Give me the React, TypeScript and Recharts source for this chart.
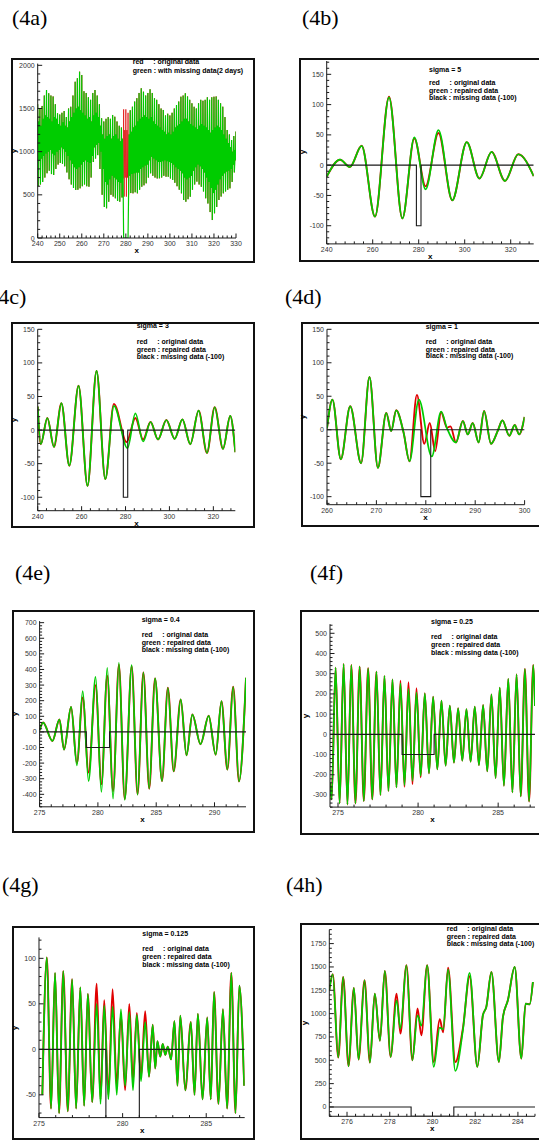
import React from 'react';
import { LineChart, Line, XAxis, YAxis } from 'recharts';

type Pt = { x: number; y: number };
const pts = (xs: number[], ys: number[]): Pt[] => xs.map((x, i) => ({ x, y: ys[i] }));

const RED = '#e00000';
const GREEN = '#00cc00';
const INK = '#1a1a1a';
const SANS = "'Liberation Sans', Arial, sans-serif";
const SERIF = "'Liberation Serif', 'Times New Roman', serif";

// (4a) raw record, days 240..330: main high/low and the smaller second tide of each day
const aFirstDay = 240;
const aHighs = [
  1550, 1500, 1530, 1650, 1714, 1676, 1650, 1640, 1550, 1444,
  1430, 1450, 1470, 1400, 1500, 1520, 1650, 1810, 1850, 1927,
  1888, 1700, 1680, 1630, 1600, 1680, 1714, 1650, 1550, 1386,
  1350, 1380, 1400, 1380, 1425, 1405, 1350, 1300, 1280, 1490,
  1490, 1450, 1480, 1521, 1580, 1620, 1680, 1734, 1695, 1650,
  1680, 1722, 1680, 1620, 1600, 1550, 1500, 1483, 1420, 1440,
  1420, 1450, 1500, 1540, 1580, 1637, 1650, 1676, 1640, 1600,
  1560, 1520, 1500, 1560, 1600, 1590, 1600, 1630, 1600, 1630,
  1637, 1640, 1600, 1560, 1521, 1400, 1251, 1200, 1135, 1180,
  1232,
];
const aLows = [
  600, 620, 650, 700, 750, 780, 740, 730, 800, 850,
  870, 860, 830, 760, 680, 620, 580, 556, 560, 575,
  600, 620, 600, 595, 700, 880, 920, 960, 800, 500,
  360, 344, 420, 500, 480, 460, 430, 421, 470, 480,
  479, 500, 520, 517, 530, 517, 560, 595, 610, 633,
  700, 749, 720, 700, 690, 691, 700, 720, 710, 710,
  690, 672, 640, 600, 560, 517, 440, 421, 450, 479,
  560, 620, 653, 620, 595, 540, 460, 400, 300, 208,
  286, 360, 440, 480, 517, 540, 560, 575, 650, 760,
  790,
];
const aHighs2 = [
  1350, 1300, 1380, 1420, 1400, 1380, 1350, 1400, 1380, 1320,
  1300, 1340, 1300, 1280, 1350, 1400, 1450, 1500, 1520, 1480,
  1450, 1420, 1380, 1400, 1350, 1420, 1450, 1400, 1300, 1200,
  1150, 1180, 1200, 1150, 1180, 1200, 1150, 1120, 1150, 1250,
  1250, 1200, 1230, 1280, 1300, 1350, 1380, 1400, 1420, 1400,
  1380, 1400, 1350, 1320, 1300, 1280, 1250, 1230, 1200, 1220,
  1200, 1230, 1280, 1300, 1320, 1350, 1380, 1380, 1350, 1320,
  1300, 1280, 1260, 1300, 1320, 1300, 1280, 1250, 1220, 1250,
  1280, 1300, 1280, 1250, 1200, 1150, 1100, 1050, 1000, 1020,
  1050,
];
const aLows2 = [
  900, 920, 950, 980, 1000, 1020, 980, 960, 1000, 1020,
  1050, 1030, 1000, 950, 900, 860, 820, 800, 820, 850,
  880, 900, 880, 870, 950, 1050, 1080, 1100, 1000, 800,
  650, 620, 680, 720, 700, 680, 650, 640, 690, 700,
  700, 720, 740, 750, 760, 760, 800, 820, 840, 850,
  900, 940, 920, 900, 880, 880, 890, 900, 890, 880,
  870, 850, 820, 800, 780, 750, 700, 680, 700, 720,
  780, 820, 850, 830, 800, 760, 700, 650, 580, 520,
  560, 620, 680, 720, 750, 770, 780, 800, 850, 900,
  920,
];
const aGap = [279, 281];
const aGapLevel = 0;

const aOrig: Pt[] = aHighs.flatMap((h, i) => {
  const d = aFirstDay + i;
  return [
    { x: d, y: h },
    { x: d + 0.25, y: aLows[i] },
    { x: d + 0.5, y: aHighs2[i] },
    { x: d + 0.75, y: aLows2[i] },
  ];
});
const aMissing: Pt[] = [
  ...aOrig.filter((p) => p.x < aGap[0]),
  { x: aGap[0], y: aGapLevel },
  { x: aGap[1], y: aGapLevel },
  ...aOrig.filter((p) => p.x > aGap[1]),
];

// black "missing data (-100)" trace of (4b)-(4h)
const missFrom = 279;
const missTo = 281;
const missLevel = -100;
const missing = (x0: number, x1: number): Pt[] => [
  { x: x0, y: 0 },
  { x: missFrom, y: 0 },
  { x: missFrom, y: missLevel },
  { x: missTo, y: missLevel },
  { x: missTo, y: 0 },
  { x: x1, y: 0 },
];

// (4b) sigma = 5
const bX = [240, 245.8, 250.1, 255.2, 261, 267.1, 272.9, 278.1, 283, 288.6, 294.6, 300.9, 306.4, 311.7, 317.5, 323.3, 330];
const bOrig = [-19, 9, -3, 32, -85, 113, -88, 44, -35, 53, -58, 38, -22, 22, -26, 18, -18];
const bRep = [-19, 9, -3, 32, -85, 112, -88, 46, -40, 58, -58, 38, -22, 22, -26, 18, -18];

// (4c) sigma = 3
const cXRep = [240, 241.4, 244.4, 247.4, 250.8, 254.4, 258.6, 262.7, 266.8, 270.8, 274.7, 280.9, 284.5, 288, 291.4, 294.8, 298.6, 302.4, 305.9, 309.5, 313.3, 317.1, 320.6, 324.4, 327.7, 330];
const cRep = [35, -21, 18, -25, 40, -53, 66, -83, 88, -73, 36, -27, 25, -17, 12, -14, 15, -13, 16, -21, 29, -34, 34, -28, 21, -33];
const cXOrig = [240, 241.4, 244.4, 247.4, 250.8, 254.4, 258.6, 262.7, 266.8, 270.8, 274.7, 280.5, 284.5, 288, 291.4, 294.8, 298.6, 302.4, 305.9, 309.5, 313.3, 317.1, 320.6, 324.4, 327.7, 330];
const cOrig = [35, -21, 18, -25, 40, -53, 66, -83, 88, -73, 39, -18, 18, -14, 12, -14, 15, -13, 16, -21, 29, -34, 34, -28, 21, -33];

// (4d) sigma = 1
const dXRep = [260, 261.1, 262.8, 264.7, 266.9, 268.6, 270.3, 272, 273, 274, 275.5, 276.7, 278.6, 281.2, 283.1, 284.3, 286.1, 287.5, 288.5, 289.5, 290.7, 291.8, 293.2, 294.6, 295.5, 296.9, 298, 298.9, 300];
const dRep = [2, 45, -44, 35, -50, 79, -57, 25, -2, 29, -4, -47, 45, -40, 27, 2, -19, 13, -7, 10, -19, 28, -21, -1, 14, -9, 7, -7, 19];
const dXOrig = [260, 261.1, 262.8, 264.7, 266.9, 268.6, 270.3, 272, 273, 274, 275.5, 276.7, 278.2, 279.7, 280.8, 281.9, 283.1, 284.3, 285, 286.1, 287.5, 288.5, 289.5, 290.7, 291.8, 293.2, 294.6, 295.5, 296.9, 298, 298.9, 300];
const dOrig = [2, 45, -44, 35, -50, 79, -57, 25, -2, 29, -4, -47, 52, -21, 10, -32, 26, 3, 5, -19, 13, -7, 10, -19, 28, -21, -1, 14, -9, 7, -7, 19];

// (4e) sigma = 0.4
const eX = [275, 275.3, 276.1, 276.7, 277.1, 277.7, 278.2, 278.7, 279.2, 279.8, 280.3, 280.8, 281.3, 281.8, 282.3, 282.9, 283.4, 283.9, 284.4, 284.9, 285.5, 286, 286.5, 287.1, 287.6, 288.1, 288.8, 289.5, 290.1, 290.6, 291.1, 291.6, 292.1, 292.7];
const eRep = [10, 60, -58, 79, -113, 160, -214, 261, -315, 353, -385, 411, -428, 443, -435, 428, -403, 381, -364, 343, -315, 283, -253, 208, -150, 111, -79, 103, -146, 197, -242, 289, -317, 347];
const eOrig = [10, 60, -58, 79, -113, 160, -200, 220, -260, 300, -335, 360, -380, 430, -430, 420, -400, 381, -364, 343, -315, 283, -253, 208, -150, 111, -79, 103, -146, 197, -242, 289, -317, 347];

// (4f) sigma = 0.25: troughs and crests of the semidiurnal tide
const fStart = { x: 274.5, y: -240 };
const fEnd = { x: 287.3, y: 140 };
const fTroughX = [274.6, 275.1, 275.59, 276.09, 276.61, 277.14, 277.65, 278.15, 278.65, 279.15, 279.65, 280.16, 280.68, 281.2, 281.72, 282.24, 282.76, 283.28, 283.8, 284.32, 284.84, 285.36, 285.89, 286.41, 286.93];
const fCrestX = [274.85, 275.35, 275.83, 276.35, 276.88, 277.4, 277.9, 278.4, 278.9, 279.4, 279.9, 280.42, 280.94, 281.46, 281.98, 282.5, 283.02, 283.54, 284.06, 284.58, 285.1, 285.63, 286.15, 286.67, 287.19];
const fTroughRep = [-322, -342, -347, -342, -330, -322, -300, -280, -262, -251, -229, -206, -193, -173, -155, -140, -130, -135, -152, -183, -216, -254, -287, -307, -332];
const fTroughOrig = [-322, -342, -347, -342, -330, -322, -300, -280, -262, -259, -246, -213, -193, -173, -155, -140, -130, -135, -152, -183, -216, -254, -287, -307, -332];
const fCrestRep = [330, 348, 343, 335, 327, 310, 289, 272, 252, 225, 208, 203, 186, 167, 142, 129, 125, 137, 145, 198, 231, 274, 297, 323, 343];
const fCrestOrig = [330, 348, 343, 335, 327, 310, 289, 272, 265, 258, 228, 203, 186, 167, 142, 129, 125, 137, 145, 198, 231, 274, 297, 323, 343];
const fSeries = (tr: number[], cr: number[]): Pt[] => [
  fStart,
  ...fTroughX.flatMap((t, i) => [{ x: t, y: tr[i] }, { x: fCrestX[i], y: cr[i] }]),
  fEnd,
];

// (4g) sigma = 0.125
const gX = [275.2, 275.47, 275.72, 275.96, 276.2, 276.45, 276.72, 276.98, 277.22, 277.47, 277.7, 277.92, 278.18, 278.45, 278.68, 278.9, 279.15, 279.4, 279.65, 279.9, 280.15, 280.4, 280.62, 280.85, 281.1, 281.35, 281.58, 281.8, 281.95, 282.08, 282.25, 282.4, 282.55, 282.7, 282.9, 283.1, 283.28, 283.45, 283.75, 284.08, 284.3, 284.5, 284.78, 285.06, 285.27, 285.47, 285.73, 286, 286.25, 286.5, 286.75, 286.98, 287.27];
const gRep = [-50, 101, -65, 84, -70, 86, -68, 77, -65, 68, -62, 61, -58, 50, -60, 48, -55, 47, -50, 44, -40, 41, -45, 38, -35, 30, -30, 27, -21, 9, -8, 6, -6, 3, -11, 31, -40, 37, -45, 30, -50, 39, -55, 35, -55, 63, -60, 44, -65, 84, -70, 70, -40];
const gOrig = [-50, 101, -65, 84, -70, 86, -68, 77, -65, 68, -62, 61, -58, 72, -55, 54, -50, 66, -40, 38, -45, 50, -35, 40, -30, 42, -30, 27, -21, 9, -8, 6, -6, 3, -11, 31, -40, 37, -45, 30, -50, 39, -55, 35, -55, 63, -60, 44, -65, 84, -70, 70, -40];

// (4h)
const hX = [275.17, 275.33, 275.59, 275.82, 276.07, 276.32, 276.54, 276.82, 277.07, 277.3, 277.54, 277.77, 278.04, 278.32, 278.5, 278.78, 279.06, 279.3, 279.48, 279.75, 280.06, 280.34, 280.5, 280.73, 281.07, 281.43, 281.74, 282.1, 282.36, 282.52, 282.76, 283.11, 283.3, 283.53, 283.85, 284.16, 284.36, 284.55, 284.7];
const hRep = [1250, 1421, 530, 1393, 436, 1275, 507, 1357, 475, 1214, 710, 1457, 536, 1143, 839, 1518, 500, 982, 870, 1518, 429, 850, 832, 1471, 386, 832, 1436, 429, 982, 1071, 1446, 482, 964, 1143, 1500, 518, 1107, 1100, 1339];
const hOrig = [1250, 1421, 530, 1393, 436, 1275, 507, 1357, 475, 1214, 710, 1457, 536, 1214, 786, 1518, 500, 1054, 768, 1518, 482, 939, 800, 1493, 482, 850, 1400, 429, 982, 1071, 1446, 482, 964, 1143, 1500, 518, 1107, 1100, 1339];

const legendRepaired = ['red     : original data', 'green : repaired data', 'black : missing data (-100)'];

const tickList = (domain: number[], step: number) => {
  const out: number[] = [];
  const start = Math.ceil(domain[0] / step - 1e-6);
  for (let k = start; k * step <= domain[1] + 1e-6; k++) out.push(Math.round(k * step * 1000) / 1000);
  return out;
};
const isMajor = (v: number, majors: number[]) => majors.some((m) => Math.abs(m - v) < 1e-6);

const XTick = ({ x, y, payload, majors }: any) => {
  const major = isMajor(payload.value, majors);
  return (
    <g>
      <line x1={x} x2={x} y1={y} y2={y - (major ? 4.5 : 2.5)} stroke={INK} strokeWidth={1} />
      {major && (
        <text x={x} y={y + 8} textAnchor="middle" fontSize={7} fill="#333" fontFamily={SANS}>
          {payload.value}
        </text>
      )}
    </g>
  );
};

const YTick = ({ x, y, payload, majors }: any) => {
  const major = isMajor(payload.value, majors);
  return (
    <g>
      <line x1={x} x2={x + (major ? 4.5 : 2.5)} y1={y} y2={y} stroke={INK} strokeWidth={1} />
      {major && (
        <text x={x - 3} y={y + 2.5} textAnchor="end" fontSize={7} fill="#333" fontFamily={SANS}>
          {payload.value}
        </text>
      )}
    </g>
  );
};

type Series = { data: Pt[]; color: string; width: number; curve: 'monotone' | 'linear' };
type PanelProps = {
  label: string;
  labelAt: number[];
  frame: number[];
  plot: number[];
  xDomain: number[];
  yDomain: number[];
  xMajor: number[];
  xStep: number;
  yMajor: number[];
  yStep: number;
  series: Series[];
  legendX: number;
  legend: [string, number][];
};

function Panel(p: PanelProps) {
  const [fl, ft, fr, fb] = p.frame;
  const [pl, pt, pr, pb] = p.plot;
  return (
    <>
      <div style={{ position: 'absolute', left: p.labelAt[0], top: p.labelAt[1], fontFamily: SERIF, fontSize: 22, lineHeight: '22px', whiteSpace: 'nowrap' }}>
        {p.label}
      </div>
      <div style={{ position: 'absolute', left: fl, top: ft, width: fr - fl, height: fb - ft, border: '2px solid #111', boxSizing: 'border-box' }} />
      <div style={{ position: 'absolute', left: fl, top: ft }}>
        <LineChart width={fr - fl} height={fb - ft} margin={{ top: pt - ft, right: fr - pr, bottom: 0, left: 0 }}>
          <XAxis
            type="number"
            dataKey="x"
            domain={p.xDomain}
            allowDataOverflow
            ticks={tickList(p.xDomain, p.xStep)}
            interval={0}
            tickSize={0}
            tickMargin={0}
            tickLine={false}
            height={fb - pb}
            axisLine={{ stroke: INK, strokeWidth: 1 }}
            tick={(t: any) => <XTick {...t} majors={p.xMajor} />}
          />
          <YAxis
            type="number"
            domain={p.yDomain}
            allowDataOverflow
            ticks={tickList(p.yDomain, p.yStep)}
            interval={0}
            tickSize={0}
            tickMargin={0}
            tickLine={false}
            width={pl - fl}
            axisLine={{ stroke: INK, strokeWidth: 1 }}
            tick={(t: any) => <YTick {...t} majors={p.yMajor} />}
          />
          {p.series.map((s, i) => (
            <Line
              key={i}
              data={s.data}
              dataKey="y"
              type={s.curve}
              stroke={s.color}
              strokeWidth={s.width}
              dot={false}
              isAnimationActive={false}
            />
          ))}
        </LineChart>
      </div>
      {p.legend.map(([text, y], i) => (
        <div key={i} style={{ position: 'absolute', left: p.legendX, top: y - 3.4, fontFamily: SANS, fontSize: 7, fontWeight: 'bold', lineHeight: '7px', whiteSpace: 'pre', color: '#000' }}>
          {text}
        </div>
      ))}
      <div style={{ position: 'absolute', left: (pl + pr) / 2 - 5, top: pb + 8, width: 10, lineHeight: '10px', fontSize: 8, fontWeight: 'bold', fontFamily: SANS, textAlign: 'center' }}>x</div>
      <div style={{ position: 'absolute', left: pl - 29, top: (pt + pb) / 2 - 5, width: 10, lineHeight: '10px', fontSize: 8, fontWeight: 'bold', fontFamily: SANS, textAlign: 'center', transform: 'rotate(-90deg)' }}>y</div>
    </>
  );
}

const smooth = (orig: Pt[], rep: Pt[], black: Pt[]): Series[] => [
  { data: orig, color: RED, width: 1.9, curve: 'monotone' },
  { data: rep, color: GREEN, width: 1.7, curve: 'monotone' },
  { data: black, color: INK, width: 1.1, curve: 'linear' },
];

export default function App() {
  return (
    <div style={{ position: 'absolute', left: 0, top: 0, width: 539, height: 1142, overflow: 'hidden', background: '#fff' }}>
      <Panel
        label="(4a)"
        labelAt={[12, 7]}
        frame={[11, 58, 255, 263]}
        plot={[37.7, 63.6, 236, 238]}
        xDomain={[240, 330]}
        yDomain={[0, 2020]}
        xMajor={[240, 250, 260, 270, 280, 290, 300, 310, 320, 330]}
        xStep={2}
        yMajor={[0, 500, 1000, 1500, 2000]}
        yStep={100}
        series={[
          { data: aOrig, color: RED, width: 0.7, curve: 'linear' },
          { data: aMissing, color: GREEN, width: 1.2, curve: 'linear' },
        ]}
        legendX={132.7}
        legend={[['red     : original data', 61], ['green : with missing data(2 days)', 70]]}
      />
      <Panel
        label="(4b)"
        labelAt={[302, 7]}
        frame={[299, 58, 560, 262]}
        plot={[326.7, 61, 533.7, 243.9]}
        xDomain={[240, 330]}
        yDomain={[-130, 172]}
        xMajor={[240, 260, 280, 300, 320]}
        xStep={4}
        yMajor={[-100, -50, 0, 50, 100, 150]}
        yStep={10}
        series={smooth(pts(bX, bOrig), pts(bX, bRep), missing(240, 330))}
        legendX={429}
        legend={[['sigma = 5', 69], [legendRepaired[0], 82.7], [legendRepaired[1], 90], [legendRepaired[2], 97.3]]}
      />
      <Panel
        label="(4c)"
        labelAt={[-9, 286]}
        frame={[11, 322, 255, 528]}
        plot={[37.7, 329.3, 235.3, 510.7]}
        xDomain={[240, 330]}
        yDomain={[-120, 150]}
        xMajor={[240, 260, 280, 300, 320]}
        xStep={4}
        yMajor={[-100, -50, 0, 50, 100, 150]}
        yStep={10}
        series={smooth(pts(cXOrig, cOrig), pts(cXRep, cRep), missing(240, 330))}
        legendX={136.7}
        legend={[['sigma = 3', 325], [legendRepaired[0], 341.7], [legendRepaired[1], 349], [legendRepaired[2], 356.7]]}
      />
      <Panel
        label="(4d)"
        labelAt={[285, 286]}
        frame={[300.7, 322, 560, 527]}
        plot={[326.7, 329.3, 524.3, 504.7]}
        xDomain={[260, 300]}
        yDomain={[-112, 150]}
        xMajor={[260, 270, 280, 290, 300]}
        xStep={2}
        yMajor={[-100, -50, 0, 50, 100, 150]}
        yStep={10}
        series={smooth(pts(dXOrig, dOrig), pts(dXRep, dRep), missing(260, 300))}
        legendX={425.7}
        legend={[['sigma = 1', 326.7], [legendRepaired[0], 341.7], [legendRepaired[1], 349], [legendRepaired[2], 355.7]]}
      />
      <Panel
        label="(4e)"
        labelAt={[15, 562]}
        frame={[11.7, 610, 255, 833]}
        plot={[39.3, 621.1, 245.7, 806.8]}
        xDomain={[275, 292.7]}
        yDomain={[-480, 710]}
        xMajor={[275, 280, 285, 290]}
        xStep={1}
        yMajor={[-400, -300, -200, -100, 0, 100, 200, 300, 400, 500, 600, 700]}
        yStep={20}
        series={smooth(pts(eX, eOrig), pts(eX, eRep), missing(275, 292.7))}
        legendX={141.7}
        legend={[['sigma = 0.4', 619.3], [legendRepaired[0], 634.3], [legendRepaired[1], 642.3], [legendRepaired[2], 649.3]]}
      />
      <Panel
        label="(4f)"
        labelAt={[310, 562]}
        frame={[300, 610, 560, 835]}
        plot={[330, 624.2, 535, 807.1]}
        xDomain={[274.5, 287.3]}
        yDomain={[-360, 545]}
        xMajor={[275, 280, 285]}
        xStep={1}
        yMajor={[-300, -200, -100, 0, 100, 200, 300, 400, 500]}
        yStep={20}
        series={smooth(fSeries(fTroughOrig, fCrestOrig), fSeries(fTroughRep, fCrestRep), missing(274.5, 287.3))}
        legendX={431}
        legend={[['sigma = 0.25', 621.7], [legendRepaired[0], 636], [legendRepaired[1], 644.3], [legendRepaired[2], 652.3]]}
      />
      <Panel
        label="(4g)"
        labelAt={[2, 874]}
        frame={[12.3, 926, 255, 1140]}
        plot={[39.3, 937.4, 245, 1117.6]}
        xDomain={[275, 287.3]}
        yDomain={[-75, 123]}
        xMajor={[275, 280, 285]}
        xStep={1}
        yMajor={[-50, 0, 50, 100]}
        yStep={10}
        series={smooth(pts(gX, gOrig), pts(gX, gRep), missing(275, 287.3))}
        legendX={142.3}
        legend={[['sigma = 0.125', 933.3], [legendRepaired[0], 948.3], [legendRepaired[1], 956.7], [legendRepaired[2], 964.7]]}
      />
      <Panel
        label="(4h)"
        labelAt={[286, 874]}
        frame={[300, 922.7, 560, 1140]}
        plot={[329.3, 929.3, 535, 1116]}
        xDomain={[275.17, 284.8]}
        yDomain={[-100, 1900]}
        xMajor={[276, 278, 280, 282, 284]}
        xStep={0.4}
        yMajor={[0, 250, 500, 750, 1000, 1250, 1500, 1750]}
        yStep={50}
        series={smooth(pts(hX, hOrig), pts(hX, hRep), missing(275.17, 284.8))}
        legendX={446.7}
        legend={[[legendRepaired[0], 928.7], [legendRepaired[1], 936.7], [legendRepaired[2], 943.7]]}
      />
    </div>
  );
}
